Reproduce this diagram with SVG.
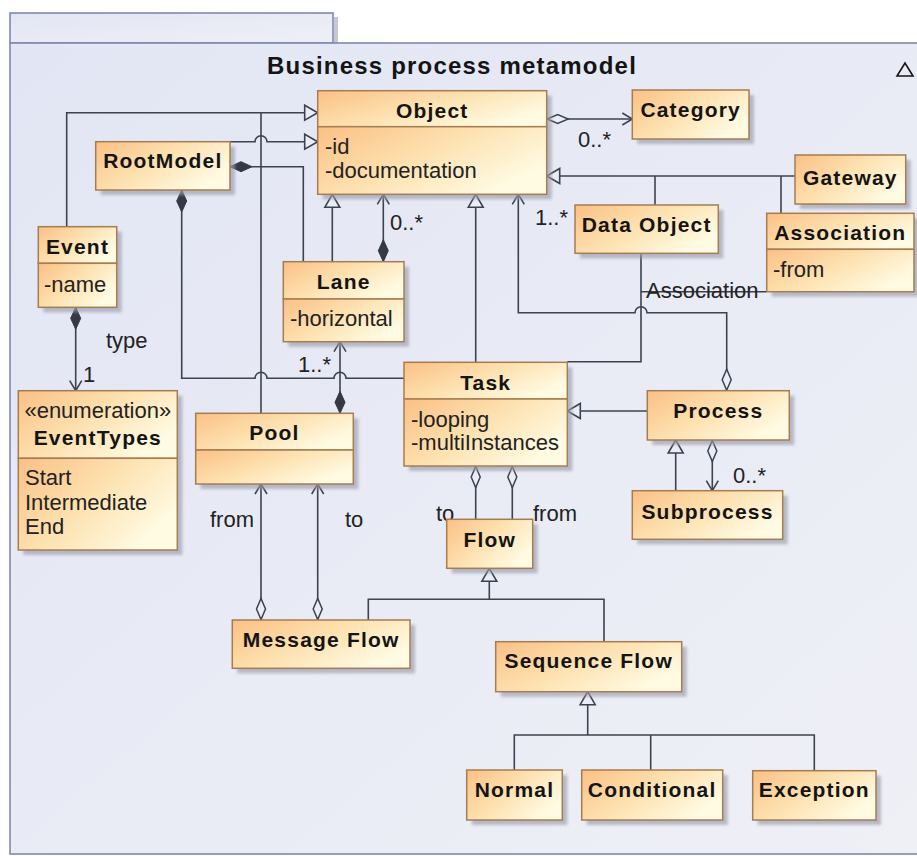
<svg xmlns="http://www.w3.org/2000/svg" width="917" height="856" viewBox="0 0 917 856">
<defs>
  <linearGradient id="nodeGrad" x1="0" y1="0" x2="1" y2="0.6">
    <stop offset="0" stop-color="#fbc085"/>
    <stop offset="0.5" stop-color="#fde0ae"/>
    <stop offset="1" stop-color="#fffbe3"/>
  </linearGradient>
  <linearGradient id="frameGrad" x1="0" y1="0" x2="1" y2="1">
    <stop offset="0" stop-color="#e2e6f4"/>
    <stop offset="1" stop-color="#eff0f6"/>
  </linearGradient>
  <filter id="blur" x="-10%" y="-10%" width="130%" height="130%">
    <feGaussianBlur stdDeviation="1.5"/>
  </filter>
  <marker id="gen" markerUnits="userSpaceOnUse" markerWidth="18" markerHeight="18" refX="14" refY="8" orient="auto" overflow="visible">
    <path d="M1,0.5 L14,8 L1,15.5 Z" fill="#eaedf7" stroke="#3b4350" stroke-width="1.6"/>
  </marker>
  <marker id="open" markerUnits="userSpaceOnUse" markerWidth="14" markerHeight="14" refX="10" refY="6" orient="auto" overflow="visible">
    <path d="M0,0 L10,6 L0,12" fill="none" stroke="#3b4350" stroke-width="1.6"/>
  </marker>
  <marker id="dfill" markerUnits="userSpaceOnUse" markerWidth="24" markerHeight="12" refX="0" refY="5" orient="auto" overflow="visible">
    <path d="M0,5 L11,0 L22,5 L11,10 Z" fill="#333a45" stroke="#333a45" stroke-width="1"/>
  </marker>
  <marker id="dhol" markerUnits="userSpaceOnUse" markerWidth="24" markerHeight="12" refX="0" refY="5" orient="auto" overflow="visible">
    <path d="M0.5,5 L11,0.5 L21.5,5 L11,9.5 Z" fill="#eaedf7" stroke="#3b4350" stroke-width="1.5"/>
  </marker>
</defs>
<style>
  .box { fill: url(#nodeGrad); stroke: #a67c52; stroke-width: 1.5; }
  .sh { fill: #9a9cab; opacity: 0.65; filter: url(#blur); }
  .hd { font-family: "Liberation Sans", Arial, sans-serif; font-weight: bold; font-size: 21px; letter-spacing: 1.2px; text-anchor: middle; fill: #141414; }
  .at { font-family: "Liberation Sans", Arial, sans-serif; font-size: 22px; fill: #222; }
  .ctr { text-anchor: middle; }
  .ln { fill: none; stroke: #3b4350; stroke-width: 1.6; }
  .frame { fill: url(#frameGrad); stroke: #8088b2; stroke-width: 1.6; }
</style>

<g id="frame">
  <rect x="334" y="17" width="4" height="26" fill="#a0a3b3" opacity="0.6"/>
  <rect class="frame" x="10" y="13" width="323" height="30"/>
  <rect class="frame" x="10" y="43" width="930" height="811"/>
  <text x="267" y="74" font-family="Liberation Sans, Arial, sans-serif" font-weight="bold" font-size="24" letter-spacing="1.2" fill="#141414">Business process metamodel</text>
  <polygon points="897,76 905,63 913,76" fill="none" stroke="#141414" stroke-width="1.6"/>
</g>

<g id="connectors">
  <!-- Event / Pool generalization to Object -->
  <path class="ln" d="M66.7,226.7 V112.7 H317.7" marker-end="url(#gen)"/>
  <path class="ln" d="M261,413.3 V112.7"/>
  <!-- RootModel generalization to Object (hop over x=261) -->
  <path class="ln" d="M230,141.7 H255 A6,6 0 0 1 267,141.7 H317.7" marker-end="url(#gen)"/>
  <!-- RootModel composition to Lane -->
  <path class="ln" d="M230,166.7 H303.3 V261.7" marker-start="url(#dfill)"/>
  <!-- Lane generalization to Object -->
  <path class="ln" d="M332.3,261.7 V194.3" marker-end="url(#gen)"/>
  <!-- Lane composition to Object -->
  <path class="ln" d="M383.3,261.7 V194.3" marker-start="url(#dfill)" marker-end="url(#open)"/>
  <!-- Task generalization to Object -->
  <path class="ln" d="M475.7,362.3 V194.3" marker-end="url(#gen)"/>
  <!-- Process aggregation to Object -->
  <path class="ln" d="M726.7,390.7 V312.7 H647 A6,6 0 0 0 635,312.7 H518.3 V194.3" marker-start="url(#dhol)" marker-end="url(#open)"/>
  <!-- Data Object to Task -->
  <path class="ln" d="M641,253.3 V361.7 H567.3"/>
  <!-- Association line -->
  <path class="ln" d="M641,291.7 H766.7"/>
  <!-- Gateway / Data Object / Association generalization -->
  <path class="ln" d="M795,176 H546.7" marker-end="url(#gen)"/>
  <path class="ln" d="M655,176 V205"/>
  <path class="ln" d="M781,176 V213.3"/>
  <!-- Object to Category -->
  <path class="ln" d="M546.7,119 H632.3" marker-start="url(#dhol)" marker-end="url(#open)"/>
  <!-- Process generalization to Task -->
  <path class="ln" d="M647.3,411 H567.3" marker-end="url(#gen)"/>
  <!-- Subprocess generalization to Process -->
  <path class="ln" d="M675.7,490.7 V440" marker-end="url(#gen)"/>
  <!-- Process aggregation to Subprocess -->
  <path class="ln" d="M712.3,440 V490.7" marker-start="url(#dhol)" marker-end="url(#open)"/>
  <!-- Task to Flow -->
  <path class="ln" d="M475.7,466 V519.3" marker-start="url(#dhol)"/>
  <path class="ln" d="M512.3,466 V519.3" marker-start="url(#dhol)"/>
  <!-- Flow generalization -->
  <path class="ln" d="M368.3,620 V599.3 H604 V641.7"/>
  <path class="ln" d="M489.3,599.3 V568.3" marker-end="url(#gen)"/>
  <!-- Message Flow to Pool -->
  <path class="ln" d="M261,620 V484" marker-start="url(#dhol)" marker-end="url(#open)"/>
  <path class="ln" d="M317.7,620 V484" marker-start="url(#dhol)" marker-end="url(#open)"/>
  <!-- Pool composition to Lane -->
  <path class="ln" d="M340,413.3 V341.7" marker-start="url(#dfill)" marker-end="url(#open)"/>
  <!-- RootModel composition to Task (hops at 261 and 340) -->
  <path class="ln" d="M181.7,190 V378.3 H255 A6,6 0 0 1 267,378.3 H334 A6,6 0 0 1 346,378.3 H404" marker-start="url(#dfill)"/>
  <!-- Event to EventTypes -->
  <path class="ln" d="M75.7,307.3 V390.7" marker-start="url(#dfill)" marker-end="url(#open)"/>
  <!-- Sequence Flow generalization -->
  <path class="ln" d="M587.7,735 V691.7" marker-end="url(#gen)"/>
  <path class="ln" d="M514.3,770 V735 H814.3 V770.7"/>
  <path class="ln" d="M650.7,735 V770"/>

  <!-- labels -->
  <text class="at" x="578" y="147">0..*</text>
  <text class="at" x="390" y="230">0..*</text>
  <text class="at" x="535" y="225">1..*</text>
  <text class="at" x="646" y="298">Association</text>
  <text class="at" x="298" y="372">1..*</text>
  <text class="at" x="106" y="348">type</text>
  <text class="at" x="83" y="382">1</text>
  <text class="at" x="210" y="527">from</text>
  <text class="at" x="345" y="527">to</text>
  <text class="at" x="436" y="521">to</text>
  <text class="at" x="533" y="521">from</text>
  <text class="at" x="733" y="483">0..*</text>
</g>

<g id="object">
  <rect class="sh" x="322.7" y="95.7" width="229" height="103.6"/>
  <rect class="box" x="317.7" y="90.7" width="229" height="36"/>
  <rect class="box" x="317.7" y="126.7" width="229" height="67.6"/>
  <text class="hd" x="432.2" y="117.7">Object</text>
  <text class="at" x="325" y="154">-id</text>
  <text class="at" x="325" y="178">-documentation</text>
</g>

<g id="category">
  <rect class="sh" x="637.3" y="95" width="116.7" height="49"/>
  <rect class="box" x="632.3" y="90" width="116.7" height="49"/>
  <text class="hd" x="690.7" y="117">Category</text>
</g>

<g id="gateway">
  <rect class="sh" x="800" y="160" width="110.7" height="49"/>
  <rect class="box" x="795" y="155" width="110.7" height="49"/>
  <text class="hd" x="850.3" y="185">Gateway</text>
</g>

<g id="dataobject">
  <rect class="sh" x="580" y="210" width="143.3" height="48.3"/>
  <rect class="box" x="575" y="205" width="143.3" height="48.3"/>
  <text class="hd" x="646.7" y="232">Data Object</text>
</g>

<g id="association">
  <rect class="sh" x="771.7" y="218.3" width="147.3" height="78.4"/>
  <rect class="box" x="766.7" y="213.3" width="147.3" height="36"/>
  <rect class="box" x="766.7" y="249.3" width="147.3" height="42.4"/>
  <text class="hd" x="840.3" y="240">Association</text>
  <text class="at" x="773" y="277">-from</text>
</g>

<g id="rootmodel">
  <rect class="sh" x="100.7" y="146.7" width="134.3" height="48.3"/>
  <rect class="box" x="95.7" y="141.7" width="134.3" height="48.3"/>
  <text class="hd" x="162.8" y="168.3">RootModel</text>
</g>

<g id="event">
  <rect class="sh" x="43.3" y="231.7" width="78.4" height="80.6"/>
  <rect class="box" x="38.3" y="226.7" width="78.4" height="36.6"/>
  <rect class="box" x="38.3" y="263.3" width="78.4" height="44"/>
  <text class="hd" x="77.5" y="254">Event</text>
  <text class="at" x="44" y="292">-name</text>
</g>

<g id="lane">
  <rect class="sh" x="288.3" y="266.7" width="120.7" height="80"/>
  <rect class="box" x="283.3" y="261.7" width="120.7" height="37.3"/>
  <rect class="box" x="283.3" y="299" width="120.7" height="42.7"/>
  <text class="hd" x="343.7" y="289.3">Lane</text>
  <text class="at" x="290" y="326">-horizontal</text>
</g>

<g id="eventtypes">
  <rect class="sh" x="23.3" y="395.7" width="159" height="159.3"/>
  <rect class="box" x="18.3" y="390.7" width="159" height="67.6"/>
  <rect class="box" x="18.3" y="458.3" width="159" height="91.7"/>
  <text class="at ctr" x="97.8" y="418">«enumeration»</text>
  <text class="hd" x="97.8" y="445">EventTypes</text>
  <text class="at" x="25" y="485">Start</text>
  <text class="at" x="25" y="510">Intermediate</text>
  <text class="at" x="25" y="534">End</text>
</g>

<g id="pool">
  <rect class="sh" x="200.7" y="418.3" width="157.6" height="70.7"/>
  <rect class="box" x="195.7" y="413.3" width="157.6" height="36.7"/>
  <rect class="box" x="195.7" y="450" width="157.6" height="34"/>
  <text class="hd" x="274.5" y="440">Pool</text>
</g>

<g id="task">
  <rect class="sh" x="409" y="367.3" width="163.3" height="103.7"/>
  <rect class="box" x="404" y="362.3" width="163.3" height="36.7"/>
  <rect class="box" x="404" y="399" width="163.3" height="67"/>
  <text class="hd" x="485.7" y="390">Task</text>
  <text class="at" x="411" y="427">-looping</text>
  <text class="at" x="411" y="450">-multiInstances</text>
</g>

<g id="process">
  <rect class="sh" x="652.3" y="395.7" width="142" height="49.3"/>
  <rect class="box" x="647.3" y="390.7" width="142" height="49.3"/>
  <text class="hd" x="718.3" y="418.3">Process</text>
</g>

<g id="subprocess">
  <rect class="sh" x="637.3" y="495.7" width="150.4" height="48.6"/>
  <rect class="box" x="632.3" y="490.7" width="150.4" height="48.6"/>
  <text class="hd" x="707.5" y="519">Subprocess</text>
</g>

<g id="flow">
  <rect class="sh" x="451.7" y="524.3" width="86" height="49"/>
  <rect class="box" x="446.7" y="519.3" width="86" height="49"/>
  <text class="hd" x="489.7" y="547">Flow</text>
</g>

<g id="messageflow">
  <rect class="sh" x="237.3" y="625" width="177.7" height="48.3"/>
  <rect class="box" x="232.3" y="620" width="177.7" height="48.3"/>
  <text class="hd" x="321.2" y="647">Message Flow</text>
</g>

<g id="sequenceflow">
  <rect class="sh" x="500.7" y="646.7" width="186" height="50"/>
  <rect class="box" x="495.7" y="641.7" width="186" height="50"/>
  <text class="hd" x="588.7" y="668.3">Sequence Flow</text>
</g>

<g id="normal">
  <rect class="sh" x="471.7" y="775" width="95.6" height="50"/>
  <rect class="box" x="466.7" y="770" width="95.6" height="50"/>
  <text class="hd" x="514.5" y="797">Normal</text>
</g>

<g id="conditional">
  <rect class="sh" x="586.7" y="775" width="141" height="50"/>
  <rect class="box" x="581.7" y="770" width="141" height="50"/>
  <text class="hd" x="652.2" y="797">Conditional</text>
</g>

<g id="exception">
  <rect class="sh" x="757.7" y="775.7" width="123.3" height="49.3"/>
  <rect class="box" x="752.7" y="770.7" width="123.3" height="49.3"/>
  <text class="hd" x="814.3" y="797">Exception</text>
</g>
</svg>
